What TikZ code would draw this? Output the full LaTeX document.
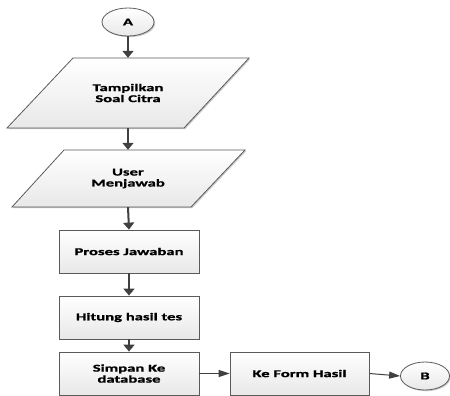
\documentclass[tikz,border=0pt]{standalone}
\usepackage{fontspec}
\newfontfamily\lbl{Carlito Bold}[FakeStretch=1.6,FakeBold=1.2]
\usetikzlibrary{arrows.meta,shadows,shapes.geometric}
\definecolor{ln}{HTML}{404040}
\definecolor{bd}{HTML}{5A5A5A}
\begin{document}
\begin{tikzpicture}[x=1pt,y=-1pt,
  txt/.style={align=center,inner sep=0pt,font=\lbl\fontsize{10.4}{11}\selectfont,text=black},
  shp/.style={draw=bd,line width=0.8pt,top color=white,bottom color=black!9,
    drop shadow={shadow xshift=1.2pt,shadow yshift=-1.2pt,fill=black!35,opacity=0.6}},
  boxn/.style={shp,txt,minimum width=140pt,minimum height=43pt},
  conn/.style={ellipse,shp,txt},
  varrow/.style={ln,line width=2pt,-{Triangle[width=11pt,length=7pt]}},
  harrow/.style={ln,line width=1pt,-{Triangle[width=7pt,length=11pt]}}]
\useasboundingbox (0,0) rectangle (450,396);
\clip (0,0) rectangle (450,396);
% connectors A and B
\node[conn,minimum width=52pt,minimum height=28pt] (a) at (128,22) {A};
% parallelograms
\draw[shp] (7,128) -- (73,58) -- (249,58) -- (184,128) -- cycle;
\node[txt,minimum height=70pt,minimum width=10pt] (p1) at (128,93) {Tampilkan\\Soal Citra};
\draw[shp] (12,207) -- (64,150) -- (245,150) -- (191,207) -- cycle;
\node[txt,minimum height=57pt,minimum width=10pt] (p2) at (128,178.5) {User\\Menjawab};
% process boxes
\node[boxn] (b1) at (129,251.5) {Proses Jawaban};
\node[boxn] (b2) at (129,317.5) {Hitung hasil tes};
\node[boxn] (b3) at (129,373.5) {Simpan Ke\\database};
\node[boxn,minimum width=139pt] (b4) at (299.5,373.5) {Ke Form Hasil};
\node[conn,minimum width=49pt,minimum height=28pt] (b) at (425,376) {B};
% arrows
\draw[varrow] (a.south) -- (p1.north);
\draw[varrow] (p1.south) -- (p2.north);
\draw[varrow] (p2.south) -- (b1.north);
\draw[varrow] (b1.south) -- (b2.north);
\draw[varrow] (b2.south) -- (b3.north);
\draw[harrow] (b3.east) -- (b4.west);
\draw[harrow] (b4.east) -- (b.west);
\end{tikzpicture}
\end{document}
